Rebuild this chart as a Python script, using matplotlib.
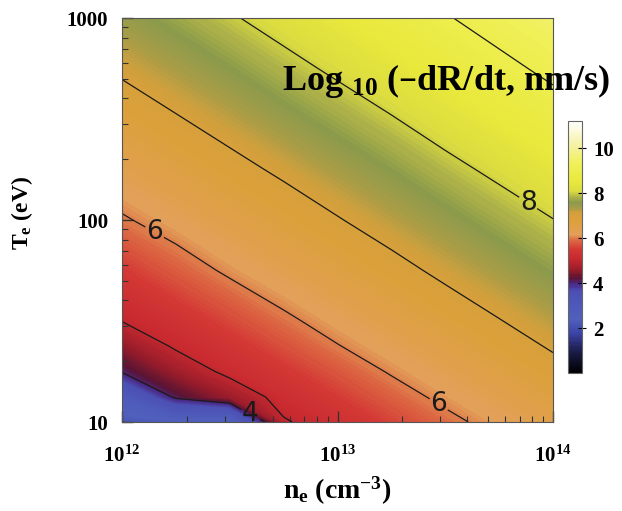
import numpy as np
import matplotlib
matplotlib.use("Agg")
import matplotlib.pyplot as plt
from matplotlib.colors import LinearSegmentedColormap
from matplotlib.scale import InvertedLogTransform
from matplotlib.transforms import blended_transform_factory

plt.rcParams['font.family'] = ['Liberation Serif', 'DejaVu Serif']
plt.rcParams['font.weight'] = 'bold'
plt.rcParams['axes.labelweight'] = 'bold'
plt.rcParams['mathtext.default'] = 'regular'

# electron density (cm^-3) and electron temperature (eV) grid
ne = [1e12, 1.78e12, 3.16e12, 5.62e12, 1e13, 1.78e13, 3.16e13, 5.62e13, 1e14]
te = [10, 13.3, 17.8, 23.7, 31.6, 56.2, 100, 178, 316, 562, 1000]

# log10(-dR/dt), one row per Te
rate = [
    [2.2, 2.3, 2.2, 4.95, 5.27, 5.57, 5.88, 6.16, 6.43],
    [2.8, 4.1, 4.6, 5.2, 5.5, 5.81, 6.1, 6.36, 6.64],
    [4.05, 4.63, 5.14, 5.44, 5.74, 6.04, 6.3, 6.57, 6.85],
    [4.52, 5.07, 5.37, 5.68, 5.98, 6.24, 6.5, 6.78, 7.05],
    [5.01, 5.31, 5.61, 5.91, 6.18, 6.44, 6.71, 6.98, 7.24],
    [5.48, 5.78, 6.07, 6.32, 6.58, 6.84, 7.11, 7.36, 7.62],
    [5.95, 6.2, 6.45, 6.71, 6.97, 7.23, 7.48, 7.74, 7.99],
    [6.34, 6.58, 6.84, 7.09, 7.35, 7.6, 7.86, 8.11, 8.37],
    [6.71, 6.96, 7.21, 7.47, 7.72, 7.97, 8.23, 8.49, 8.75],
    [7.08, 7.33, 7.58, 7.84, 8.09, 8.34, 8.59, 8.86, 9.12],
    [7.45, 7.7, 7.95, 8.2, 8.45, 8.7, 8.96, 9.22, 9.48],
]

plain_levels = [5, 7, 9]
label_levels = [4, 6, 8]
label_pos = [(4.05e12, 11.5), (1.45e12, 91), (3.0e13, 12.6), (7.8e13, 125)]

cb_ticks = [2, 4, 6, 8, 10]
vmax = 11.2

anchors = [0, 1.0, 1.8, 2.4, 3.6, 3.95, 4.2, 4.6, 5.1, 5.5, 5.9, 6.15, 6.4,
           6.8, 7.1, 7.4, 7.6, 7.85, 8.1, 8.5, 9.3, 10.2, 11.2]
colors = ['#000000', '#1e1e50', '#3c46a8', '#5060bc', '#4c50b4', '#4a2a88',
          '#5a1434', '#9a1c2a', '#c82a30', '#d43834', '#dc6a44', '#e2a05a',
          '#e0a04c', '#dca03a', '#d4a03c', '#a09c48', '#8c9b4b', '#b0b448',
          '#dcdc40', '#e8e83c', '#f0f058', '#f6f2a8', '#ffffff']
cmap = LinearSegmentedColormap.from_list(
    'idl', list(zip([a / vmax for a in anchors], colors)))

fig = plt.figure(figsize=(6.22, 5.11), dpi=100)
ax = fig.add_axes([122 / 622, 89 / 511, 431 / 622, 404 / 511])
ax.set_xscale('log')
ax.set_yscale('log')

z = np.array(rate)

# work in decade units so the fill, lines and label gaps follow the log axes
from_dec = blended_transform_factory(InvertedLogTransform(10),
                                     InvertedLogTransform(10)) + ax.transData
lne, lte = np.log10(ne), np.log10(te)

fill_levels = np.linspace(0, vmax, 561)
cf = ax.contourf(lne, lte, z, levels=fill_levels, cmap=cmap,
                 transform=from_dec)
cf.set_edgecolor('face')
cf.set_linewidth(0.4)

ax.contour(lne, lte, z, levels=plain_levels, colors='#1a1a1a',
           linewidths=0.9, transform=from_dec)
cs = ax.contour(lne, lte, z, levels=label_levels, colors='#1a1a1a',
                linewidths=0.9, transform=from_dec)
ax.clabel(cs, manual=label_pos, inline=True, fmt='%d', fontsize=19,
          inline_spacing=4)
for t in cs.labelTexts:
    t.set_rotation(0)
    t.set_family('DejaVu Sans')
    t.set_weight('normal')
    t.set_color('#1a1a1a')

ax.set_xlim(1e12, 1e14)
ax.set_ylim(10, 1000)
ax.set_yticks([10, 100, 1000])
ax.set_yticklabels(['10', '100', '1000'])
ax.tick_params(which='both', direction='in', top=False, right=False,
               labelsize=15, color='#333333')
ax.tick_params(which='major', length=8, width=1)
ax.tick_params(which='minor', length=4, width=0.8)
ax.tick_params(axis='y', pad=10)
ax.tick_params(axis='x', pad=17)
for s in ax.spines.values():
    s.set_color('#555555')
    s.set_linewidth(0.8)
    s.set_zorder(5)

ax.set_xlabel(r'n$_e$ (cm$^{-3}$)', fontsize=20)
ax.set_ylabel(r'T$_e$ (eV)', fontsize=17)
ax.xaxis.set_label_coords(0.5, -0.13)
ax.yaxis.set_label_coords(-0.202, 0.517)

fig.text(282 / 622, (511 - 90) / 511, r'Log $_{10}$ (–dR/dt, nm/s)',
         fontsize=26, ha='left', va='baseline')

cax = fig.add_axes([568 / 622, 138 / 511, 14 / 622, 252 / 511])
cb = fig.colorbar(cf, cax=cax, ticks=cb_ticks)
cb.outline.set_edgecolor('#666666')
cb.outline.set_linewidth(0.8)
cax.tick_params(direction='inout', length=6, width=0.8, labelsize=15, pad=5)
cax.minorticks_off()

fig.savefig('out.png', dpi=100)
